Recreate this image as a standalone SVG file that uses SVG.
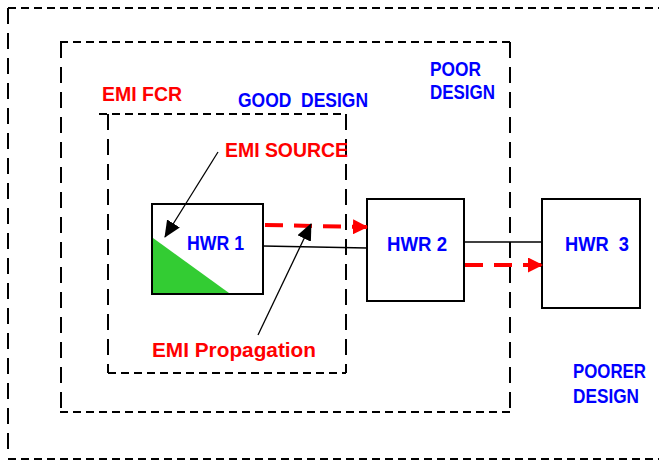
<svg xmlns="http://www.w3.org/2000/svg" width="659" height="462" viewBox="0 0 659 462">
  <style>
    .hdash { stroke: #000; stroke-width: 2; stroke-dasharray: 8 5; fill: none; }
    .vdash { stroke: #000; stroke-width: 2; stroke-dasharray: 16 9; fill: none; }
    .box { fill: #fff; stroke: #000; stroke-width: 2; }
    .wire { stroke: #000; stroke-width: 1.5; fill: none; }
    .flow { stroke: #f00; stroke-width: 4; stroke-dasharray: 18 11; fill: none; }
    .pointer { stroke: #000; stroke-width: 1.3; fill: none; }
    text { font-family: "Liberation Sans", Arial, sans-serif; font-weight: bold; font-size: 21px; }
    .red { fill: #f00; }
    .blue { fill: #0000ff; }
  </style>
  <defs>
    <marker id="blackHead" markerWidth="17" markerHeight="15" refX="16" refY="7.5" orient="auto" markerUnits="userSpaceOnUse">
      <path d="M0,0 L17,7.5 L0,15 Z" fill="#000"/>
    </marker>
    <marker id="redHead" markerWidth="15" markerHeight="15" refX="14" refY="7.5" orient="auto" markerUnits="userSpaceOnUse">
      <path d="M0,0 L15,7.5 L0,15 Z" fill="#f00"/>
    </marker>
  </defs>

  <rect width="659" height="462" fill="#fff"/>

  <!-- design boundaries -->
  <g id="poorer-boundary">
    <line class="hdash" x1="8" y1="8" x2="659" y2="8"/>
    <line class="vdash" x1="8" y1="8" x2="8" y2="458"/>
    <line class="hdash" x1="8" y1="459" x2="659" y2="459"/>
  </g>
  <g id="poor-boundary">
    <line class="hdash" x1="60" y1="42" x2="510" y2="42"/>
    <line class="vdash" x1="61" y1="42" x2="61" y2="412"/>
    <line class="vdash" x1="510" y1="42" x2="510" y2="412"/>
    <line class="hdash" x1="60" y1="412" x2="510" y2="412"/>
  </g>
  <g id="good-boundary">
    <line class="hdash" x1="99" y1="114" x2="346" y2="114"/>
    <line class="vdash" x1="108" y1="114" x2="108" y2="373"/>
    <line class="vdash" x1="346" y1="114" x2="346" y2="373"/>
    <line class="hdash" x1="108" y1="373" x2="346" y2="373"/>
  </g>

  <!-- hardware nodes -->
  <g id="hwr1">
    <rect class="box" x="152" y="204" width="111" height="90"/>
    <path d="M153,238 L153,293 L229,293 Z" fill="#33cc33"/>
    <text class="blue" x="187" y="250" textLength="57" lengthAdjust="spacingAndGlyphs">HWR 1</text>
  </g>
  <g id="hwr2">
    <rect class="box" x="367" y="199" width="97" height="102"/>
    <text class="blue" x="387" y="251" textLength="60" lengthAdjust="spacingAndGlyphs">HWR 2</text>
  </g>
  <g id="hwr3">
    <rect class="box" x="542" y="199" width="98" height="109"/>
    <text class="blue" x="565" y="251" textLength="64" lengthAdjust="spacingAndGlyphs" xml:space="preserve">HWR  3</text>
  </g>

  <!-- connectors -->
  <g id="connectors">
    <line class="wire" x1="263" y1="246" x2="367" y2="248"/>
    <line class="wire" x1="464" y1="242" x2="542" y2="242"/>
    <line class="flow" x1="265" y1="225" x2="367" y2="227" marker-end="url(#redHead)"/>
    <line class="flow" x1="465" y1="265" x2="542" y2="265" marker-end="url(#redHead)"/>
    <line class="pointer" x1="218" y1="152" x2="165" y2="237" marker-end="url(#blackHead)"/>
    <line class="pointer" x1="258" y1="335" x2="311" y2="224" marker-end="url(#blackHead)"/>
  </g>

  <!-- labels -->
  <g id="labels">
    <text class="red" x="102" y="101" textLength="80" lengthAdjust="spacingAndGlyphs">EMI FCR</text>
    <text class="blue" x="238" y="107" textLength="130" lengthAdjust="spacingAndGlyphs" xml:space="preserve">GOOD  DESIGN</text>
    <text class="blue" x="430" y="76" textLength="51" lengthAdjust="spacingAndGlyphs">POOR</text>
    <text class="blue" x="430" y="99" textLength="65" lengthAdjust="spacingAndGlyphs">DESIGN</text>
    <text class="red" x="225" y="157" textLength="123" lengthAdjust="spacingAndGlyphs">EMI SOURCE</text>
    <text class="red" x="152" y="357" textLength="164" lengthAdjust="spacingAndGlyphs">EMI Propagation</text>
    <text class="blue" x="573" y="378" textLength="73" lengthAdjust="spacingAndGlyphs">POORER</text>
    <text class="blue" x="573" y="403" textLength="66" lengthAdjust="spacingAndGlyphs">DESIGN</text>
  </g>
</svg>
